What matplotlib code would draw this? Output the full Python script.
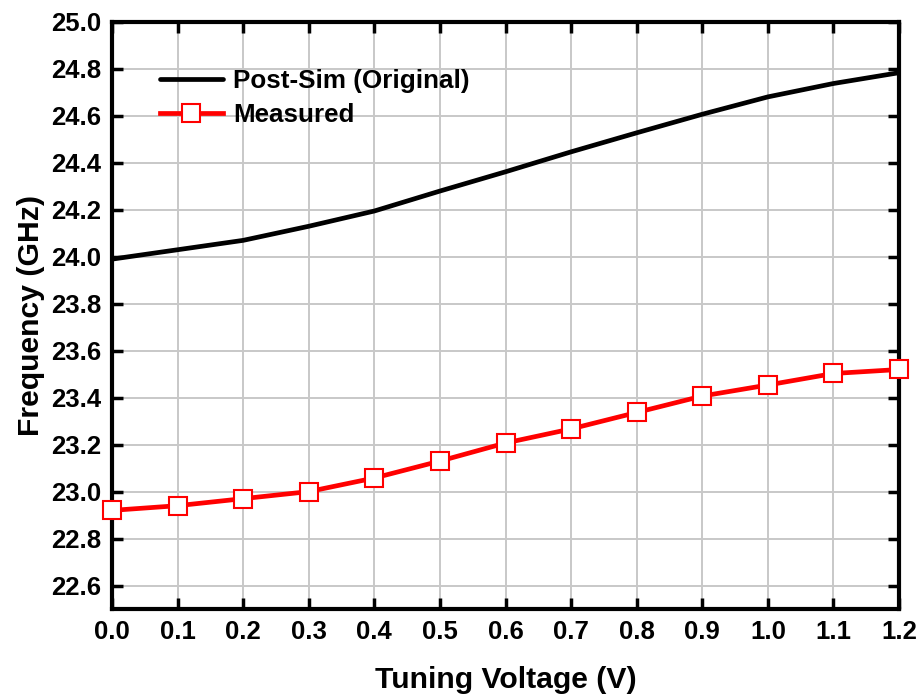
import matplotlib
matplotlib.use("Agg")
import matplotlib.pyplot as plt

plt.rcParams['font.family'] = ['Liberation Sans', 'DejaVu Sans']
plt.rcParams['font.weight'] = 'bold'

# Tuning voltage (V)
voltage = [0.0, 0.1, 0.2, 0.3, 0.4, 0.5, 0.6, 0.7, 0.8, 0.9, 1.0, 1.1, 1.2]
# Post-layout simulation frequency (GHz)
post_sim = [23.99, 24.03, 24.07, 24.13, 24.195, 24.28, 24.362, 24.447,
            24.528, 24.607, 24.681, 24.738, 24.784]
# Measured frequency (GHz)
measured = [22.92, 22.94, 22.97, 23.00, 23.058, 23.13, 23.207, 23.267,
            23.337, 23.407, 23.454, 23.503, 23.52]

x_ticks = [0.0, 0.1, 0.2, 0.3, 0.4, 0.5, 0.6, 0.7, 0.8, 0.9, 1.0, 1.1, 1.2]
y_ticks = [22.6, 22.8, 23.0, 23.2, 23.4, 23.6, 23.8, 24.0, 24.2, 24.4, 24.6, 24.8, 25.0]

fig = plt.figure(figsize=(9.19, 7.0), dpi=100)
ax = fig.add_axes([0.1219, 0.13, 0.8564, 0.8386])

ax.plot(voltage, post_sim, color='black', lw=3.4, label='Post-Sim (Original)',
        solid_capstyle='round', zorder=3)
ax.plot(voltage, measured, color='red', lw=3.4, marker='s', markersize=13.5,
        markerfacecolor='white', markeredgecolor='red', markeredgewidth=1.5,
        label='Measured', zorder=4, clip_on=False)

ax.set_xlim(0.0, 1.2)
ax.set_ylim(22.5, 25.0)
ax.set_xticks(x_ticks)
ax.set_yticks(y_ticks)
ax.set_xticklabels([f"{v:.1f}" for v in x_ticks])
ax.set_yticklabels([f"{v:.1f}" for v in y_ticks])

ax.grid(True, color='#c8c8c8', lw=1.4, zorder=0)
ax.set_axisbelow(True)

for s in ax.spines.values():
    s.set_linewidth(3.0)
ax.tick_params(axis='both', which='major', direction='in', length=8, width=2.5,
               labelsize=18.5, top=True, right=True, pad=8)
for lab in ax.get_xticklabels() + ax.get_yticklabels():
    lab.set_fontweight('bold')

ax.set_xlabel('Tuning Voltage (V)', fontsize=21.7, fontweight='bold', labelpad=16)
ax.set_ylabel('Frequency (GHz)', fontsize=21.7, fontweight='bold', labelpad=4)

leg = ax.legend(loc='upper left', bbox_to_anchor=(0.048, 0.937), frameon=False,
                fontsize=18.7, handlelength=2.4, handletextpad=0.4,
                labelspacing=0.37, borderaxespad=0.0)
for t in leg.get_texts():
    t.set_fontweight('bold')

fig.savefig('out.png', dpi=100)
